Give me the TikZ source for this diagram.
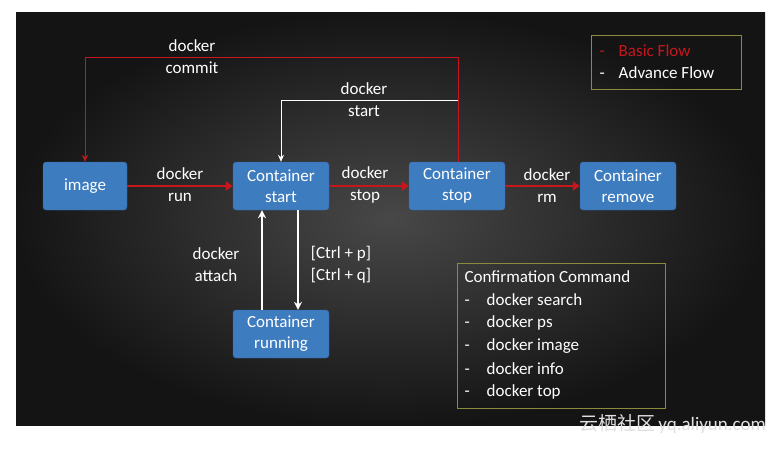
\documentclass[tikz,border=0pt]{standalone}
\usepackage{fontspec}
\setmainfont{Carlito}
\usetikzlibrary{arrows.meta}
\definecolor{nodeblue}{HTML}{3E7CC0}
\definecolor{flowred}{HTML}{C8161C}
\definecolor{olive}{HTML}{8C8A3C}
\begin{document}
\begin{tikzpicture}[x=1pt,y=-1pt,
  box/.style={draw=nodeblue!80!black,fill=nodeblue,rounded corners=3pt,minimum width=96pt,minimum height=48pt,text=white,font=\fontsize{17}{21}\selectfont,align=center,inner sep=0pt},
  lbl/.style={text=white,font=\fontsize{17}{22}\selectfont,align=center},
  red/.style={draw=flowred,line width=0.8pt},
  redthick/.style={draw=flowred,line width=2.5pt,-{Triangle[length=7pt,width=9pt]}},
  wht/.style={draw=white,line width=0.8pt,-{Stealth[length=7pt,width=6pt]}},
  whtthick/.style={draw=white,line width=2pt,-{Stealth[length=8pt,width=8pt]}}]
\useasboundingbox (0,0) rectangle (776,451);
\fill[white] (0,0) rectangle (776,451);
\shade[inner color=black!72,outer color=black!92] (16,12) rectangle (765,425);
\node[box,minimum width=84pt] (img) at (85,186) {image};
\node[box] (cs) at (281,186) {Container\\start};
\node[box] (cst) at (457,186) {Container\\stop};
\node[box] (cr) at (628,186) {Container\\remove};
\node[box] (run) at (281,334) {Container\\running};
\coordinate (c1) at (458,57);
\coordinate (c2) at (85,57);
\coordinate (s1) at (458,100);
\coordinate (s2) at (281,100);
\draw[red,-{Stealth[length=7pt,width=6pt]}] (cst.north -| c1) -- (c1) -- (c2) -- (img.north);
\draw[wht] (s1) -- (s2) -- (cs.north);
\draw[redthick] (img) -- (cs);
\draw[redthick] (cs) -- (cst);
\draw[redthick] (cst) -- (cr);
\draw[whtthick] (run.north -| 262,0) -- (cs.south -| 262,0);
\draw[whtthick] (cs.south -| 298,0) -- (run.north -| 298,0);
\node[lbl] (l1) at (192,57) {docker\\commit};
\node[lbl] (l2) at (364,100) {docker\\start};
\node[lbl] (l3) at (180,185) {docker\\run};
\node[lbl] (l4) at (365,185) {docker\\stop};
\node[lbl] (l5) at (547,186) {docker\\rm};
\node[lbl] (l6) at (216,265) {docker\\attach};
\node[lbl] (l7) at (341,265) {[Ctrl + p]\\{}[Ctrl + q]};
\draw[olive,line width=1pt] (591,35) rectangle (741,89);
\node[lbl,anchor=west,text=flowred] (lg1) at (596,51) {-\hspace{14pt}Basic Flow};
\node[lbl,anchor=west] (lg2) at (596,73) {-\hspace{14pt}Advance Flow};
\draw[olive,line width=1pt] (457,263) rectangle (665,408);
\node[lbl,anchor=west] (cc) at (461,277) {Confirmation Command};
\foreach \t [count=\i] in {docker search,docker ps,docker image,docker info,docker top}
  \node[lbl,anchor=west] (ci\i) at (461,277+23*\i) {-\hspace{17pt}\t};
\node[text=black!12,font=\fontsize{19}{20}\selectfont,anchor=east,inner sep=0pt] (wm) at (766,424) {\fontspec{Noto Sans CJK SC}云栖社区\,\fontspec{Carlito}yq.aliyun.com};
\end{tikzpicture}
\end{document}
